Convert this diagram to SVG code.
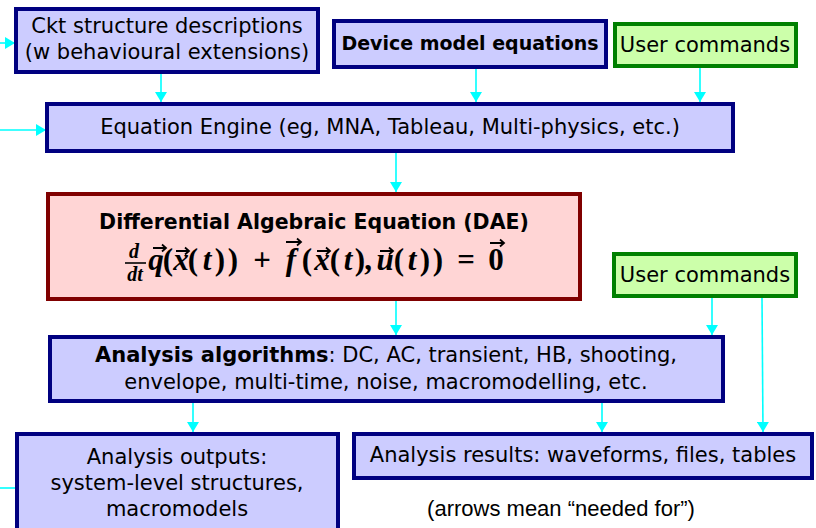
<svg xmlns="http://www.w3.org/2000/svg" width="816" height="528" viewBox="0 0 816 528">
<style>
.blue{fill:#ccccff;stroke:#000080;stroke-width:4}
.green{fill:#ccffaa;stroke:#008000;stroke-width:4}
.red{fill:#ffd5d5;stroke:#800000;stroke-width:4}
.t{font-family:"DejaVu Sans",sans-serif;font-size:21px;fill:#000;text-anchor:middle}
.b{font-weight:bold}
.c{stroke:#00ffff;stroke-width:1.6;fill:none}
.m{font-family:"Liberation Serif",serif;font-weight:bold;fill:#000;font-size:31px;text-anchor:middle}
.i{font-style:italic}
.s{font-size:20px}
.v{stroke:#000;stroke-width:1.8;fill:none}
</style>
<defs>
<marker id="ah" viewBox="0 0 10 12" refX="10" refY="6" markerWidth="10" markerHeight="12" markerUnits="userSpaceOnUse" orient="auto">
<path d="M0,0 L10,6 L0,12 Z" fill="#00ffff"/>
</marker>
</defs>
<rect width="816" height="528" fill="#fff"/>
<g id="connectors">
<line class="c" x1="0" y1="43" x2="15" y2="43" marker-end="url(#ah)"/>
<line class="c" x1="0" y1="130" x2="46" y2="130" marker-end="url(#ah)"/>
<line class="c" x1="161" y1="73" x2="161" y2="102" marker-end="url(#ah)"/>
<line class="c" x1="476" y1="68" x2="476" y2="102" marker-end="url(#ah)"/>
<line class="c" x1="700" y1="67" x2="700" y2="102" marker-end="url(#ah)"/>
<line class="c" x1="396" y1="152" x2="396" y2="192" marker-end="url(#ah)"/>
<line class="c" x1="396" y1="300" x2="396" y2="335" marker-end="url(#ah)"/>
<line class="c" x1="712" y1="298" x2="712" y2="335" marker-end="url(#ah)"/>
<line class="c" x1="762" y1="298" x2="763" y2="432" marker-end="url(#ah)"/>
<line class="c" x1="193" y1="403" x2="193" y2="432" marker-end="url(#ah)"/>
<line class="c" x1="602" y1="403" x2="602" y2="432" marker-end="url(#ah)"/>
<line class="c" x1="0" y1="488" x2="16" y2="488"/>
</g>
<g id="ckt">
<rect class="blue" x="16" y="9" width="302" height="63"/>
<text class="t" x="167" y="33">Ckt structure descriptions</text>
<text class="t" x="167" y="59">(w behavioural extensions)</text>
</g>
<g id="device">
<rect class="blue" x="334" y="21" width="272" height="46"/>
<text class="t b" x="470" y="50" style="font-size:19px">Device model equations</text>
</g>
<g id="user1">
<rect class="green" x="615" y="24" width="181" height="42"/>
<text class="t" x="705" y="52">User commands</text>
</g>
<g id="engine">
<rect class="blue" x="47" y="104" width="686" height="47"/>
<text class="t" x="390" y="134">Equation Engine (eg, MNA, Tableau, Multi-physics, etc.)</text>
</g>
<g id="dae">
<rect class="red" x="48" y="194" width="532" height="105"/>
<text class="t b" x="314" y="229" style="font-size:20.5px">Differential Algebraic Equation (DAE)</text>
<text class="m i s" x="134" y="258">d</text>
<line x1="125" y1="263" x2="146" y2="263" stroke="#000" stroke-width="1.6"/>
<text class="m i s" x="135" y="281">dt</text>
<text class="m i" x="156" y="270">q</text>
<text class="m" x="168" y="270">(</text>
<text class="m i" x="181" y="270">x</text>
<text class="m" x="193" y="270">(</text>
<text class="m i" x="207" y="270">t</text>
<text class="m" x="220" y="270">)</text>
<text class="m" x="233" y="270">)</text>
<text class="m" x="262" y="270">+</text>
<text class="m i" x="291" y="270">f</text>
<text class="m" x="307" y="270">(</text>
<text class="m i" x="322" y="270">x</text>
<text class="m" x="335" y="270">(</text>
<text class="m i" x="348" y="270">t</text>
<text class="m" x="360" y="270">)</text>
<text class="m" x="368" y="270">,</text>
<text class="m i" x="385" y="270">u</text>
<text class="m" x="399" y="270">(</text>
<text class="m i" x="412" y="270">t</text>
<text class="m" x="425" y="270">)</text>
<text class="m" x="438" y="270">)</text>
<text class="m" x="466" y="270">=</text>
<text class="m" x="496" y="270">0</text>
<path class="v" d="M153,248 H166 M162,244.5 L166,248 L162,251.5"/>
<path class="v" d="M176,251 H189 M185,247.5 L189,251 L185,254.5"/>
<path class="v" d="M286,242 H301 M297,238.5 L301,242 L297,245.5"/>
<path class="v" d="M317,251 H330 M326,247.5 L330,251 L326,254.5"/>
<path class="v" d="M380,251 H393 M389,247.5 L393,251 L389,254.5"/>
<path class="v" d="M490,243 H504 M500,239.5 L504,243 L500,246.5"/>
</g>
<g id="user2">
<rect class="green" x="614" y="254" width="182" height="42"/>
<text class="t" x="705" y="282">User commands</text>
</g>
<g id="analysis">
<rect class="blue" x="50" y="337" width="673" height="64"/>
<text class="t" x="386" y="362"><tspan class="b">Analysis algorithms</tspan>: DC, AC, transient, HB, shooting,</text>
<text class="t" x="386" y="389">envelope, multi-time, noise, macromodelling, etc.</text>
</g>
<g id="outputs">
<rect class="blue" x="17" y="434" width="321" height="100"/>
<text class="t" x="177" y="464">Analysis outputs:</text>
<text class="t" x="177" y="490">system-level structures,</text>
<text class="t" x="177" y="516">macromodels</text>
</g>
<g id="results">
<rect class="blue" x="354" y="434" width="458" height="44"/>
<text class="t" x="583" y="462">Analysis results: waveforms, files, tables</text>
</g>
<g id="note">
<text x="561" y="516" font-family="Liberation Sans, Arial, sans-serif" font-size="22" text-anchor="middle">(arrows mean “needed for”)</text>
</g>
</svg>
